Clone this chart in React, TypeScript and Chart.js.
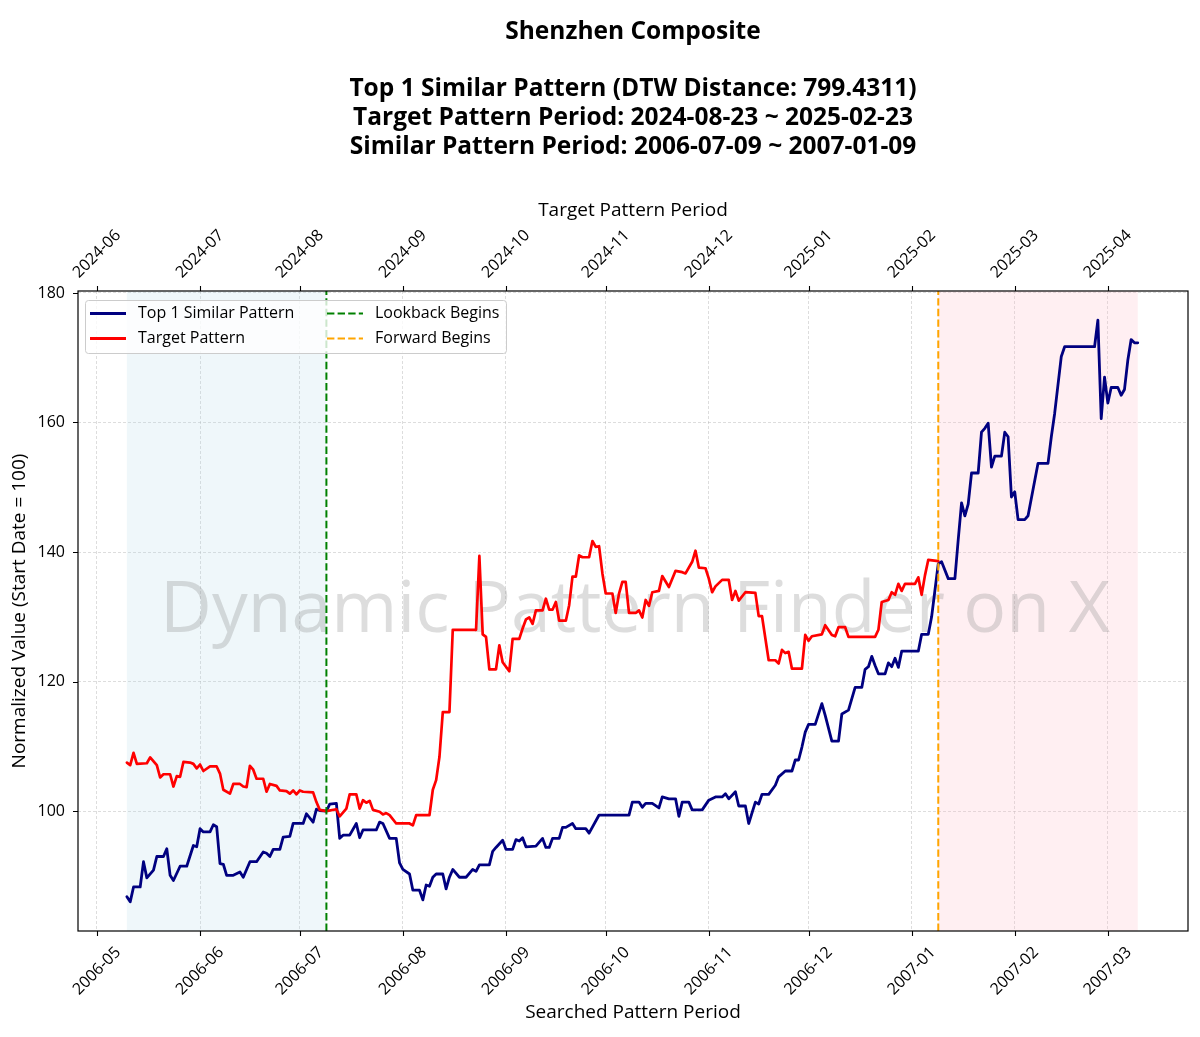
import React, { useEffect, useRef } from "react";
import { Chart, registerables } from "chart.js";

Chart.register(...registerables);

// days counted from 2006-05-01 (searched pattern time axis)
const monthTicks = [0, 31, 61, 92, 123, 153, 184, 214, 245, 276, 304];
const searchedLabels = [
  "2006-05", "2006-06", "2006-07", "2006-08", "2006-09", "2006-10",
  "2006-11", "2006-12", "2007-01", "2007-02", "2007-03",
];
const targetLabels = [
  "2024-06", "2024-07", "2024-08", "2024-09", "2024-10", "2024-11",
  "2024-12", "2025-01", "2025-02", "2025-03", "2025-04",
];
const yTicks = [100, 120, 140, 160, 180];

const lookbackDay = 69; // 2006-07-09
const forwardDay = 253; // 2007-01-09
const patternStartDay = 9;
const patternEndDay = 313;

// Top 1 Similar Pattern (searched, 2006-05 ~ 2007-03)
const similarDays = [
  9, 10, 11, 13, 14, 15, 17, 18, 20, 21, 22, 23, 25, 27, 29, 30, 31, 32, 34, 35,
  36, 37, 38, 39, 41, 43, 44, 46, 48, 50, 51, 52, 53, 55, 56, 58, 59, 62, 63, 65,
  66, 67, 69, 70, 72, 73, 74, 76, 78, 79, 80, 84, 85, 86, 88, 90, 91, 92, 94, 95,
  97, 98, 99, 100, 101, 102, 104, 105, 106, 107, 109, 111, 113, 114, 115, 118, 119, 120, 122, 123,
  125, 126, 127, 128, 129, 132, 134, 135, 136, 137, 139, 140, 141, 143, 144, 147, 148, 151, 160, 161,
  163, 164, 165, 167, 169, 170, 172, 174, 175, 176, 178, 179, 182, 184, 186, 188, 189, 190, 192, 193,
  195, 196, 198, 199, 200, 202, 204, 205, 207, 209, 210, 211, 212, 213, 214, 216, 218, 219, 221, 223,
  224, 226, 228, 230, 231, 232, 233, 234, 235, 237, 238, 239, 240, 241, 242, 247, 248, 250, 251, 252,
  253, 254, 256, 258, 259, 260, 261, 262, 263, 265, 266, 267, 268, 269, 270, 272, 273, 274, 275, 276,
  277, 279, 280, 283, 286, 287, 288, 290, 291, 300, 301, 302, 303, 304, 305, 307, 308, 309, 310, 311,
  312, 313,
];
const similarValues = [
  86.8, 86.0, 88.3, 88.3, 92.2, 89.7, 90.9, 93.0, 93.0, 94.2, 90.1, 89.3, 91.5, 91.5, 94.7, 94.5, 97.3, 96.8, 96.8, 97.9,
  97.6, 91.9, 91.8, 90.1, 90.1, 90.6, 89.8, 92.2, 92.2, 93.7, 93.5, 93.0, 94.1, 94.1, 96.0, 96.1, 98.1, 98.1, 99.6, 98.3,
  100.3, 100.1, 100.0, 101.1, 101.2, 95.8, 96.3, 96.3, 98.1, 95.9, 97.1, 97.1, 98.3, 98.1, 95.8, 95.8, 92.0, 91.0, 90.3, 87.8,
  87.8, 86.3, 88.6, 88.4, 89.8, 90.3, 90.3, 88.0, 89.8, 91.0, 89.8, 89.8, 91.0, 90.7, 91.7, 91.7, 93.8, 94.4, 95.5, 94.1,
  94.1, 95.6, 95.4, 95.9, 94.5, 94.6, 95.8, 94.4, 94.4, 95.8, 95.8, 97.5, 97.5, 98.1, 97.3, 97.3, 96.6, 99.4, 99.4, 101.4,
  101.4, 100.6, 101.2, 101.2, 100.5, 102.2, 101.9, 101.9, 99.2, 101.4, 101.4, 100.2, 100.2, 101.7, 102.2, 102.2, 102.7, 101.9, 103.0, 100.8,
  100.8, 98.1, 101.4, 101.1, 102.6, 102.6, 104.0, 105.3, 106.2, 106.2, 107.9, 107.9, 109.9, 112.2, 113.4, 113.4, 116.6, 114.8, 110.8, 110.8,
  115.0, 115.6, 119.1, 119.1, 121.9, 122.3, 123.9, 122.5, 121.2, 121.2, 122.9, 122.3, 123.6, 122.2, 124.7, 124.7, 127.3, 127.3, 130.0, 134.1,
  138.2, 138.5, 135.9, 135.9, 141.9, 147.6, 145.6, 147.4, 152.2, 152.2, 158.5, 159.1, 159.9, 153.1, 154.8, 154.8, 158.5, 157.8, 148.5, 149.3,
  145.0, 145.0, 145.6, 153.7, 153.7, 157.8, 161.4, 170.2, 171.7, 171.7, 175.8, 160.6, 167.0, 163.0, 165.4, 165.4, 164.2, 165.1, 169.6, 172.8,
  172.3, 172.3,
];

// Target Pattern (2024-06-23 ~ 2025-02-23, shifted onto the searched axis)
const targetDays = [
  9, 10, 11, 12, 15, 16, 18, 19, 20, 22, 23, 24, 25, 26, 28, 29, 30, 31, 32, 34,
  36, 37, 38, 40, 41, 43, 44, 45, 46, 47, 48, 50, 51, 52, 54, 55, 57, 58, 59, 60,
  61, 62, 65, 66, 67, 69, 72, 73, 75, 76, 78, 79, 80, 81, 82, 83, 85, 86, 87, 88,
  90, 94, 95, 96, 100, 101, 102, 103, 104, 106, 107, 114, 115, 116, 117, 118, 120, 121, 122, 124,
  125, 127, 128, 129, 130, 131, 132, 134, 135, 136, 137, 138, 139, 141, 142, 143, 144, 145, 146, 148,
  149, 150, 151, 152, 153, 155, 156, 157, 158, 159, 160, 162, 163, 164, 165, 166, 167, 169, 170, 172,
  174, 176, 177, 179, 180, 181, 183, 184, 185, 186, 188, 190, 191, 192, 193, 195, 198, 199, 200, 202,
  204, 205, 206, 207, 208, 209, 212, 213, 214, 215, 218, 219, 221, 222, 223, 225, 226, 234, 235, 236,
  238, 239, 240, 241, 242, 243, 246, 247, 248, 249, 250, 253,
];
const targetValues = [
  107.5, 107.1, 109.0, 107.3, 107.4, 108.3, 107.1, 105.2, 105.7, 105.7, 103.8, 105.4, 105.3, 107.6, 107.5, 107.3, 106.6, 107.2, 106.2, 106.9,
  106.9, 105.8, 103.3, 102.7, 104.2, 104.2, 103.8, 103.7, 107.0, 106.4, 105.0, 105.0, 103.0, 104.2, 103.9, 103.2, 103.1, 102.7, 103.2, 102.6,
  103.2, 103.0, 102.9, 101.4, 100.2, 100.0, 100.3, 99.2, 100.4, 102.6, 102.6, 100.4, 101.7, 101.3, 101.6, 100.2, 99.9, 99.5, 99.7, 99.4,
  98.1, 98.1, 97.8, 99.4, 99.4, 103.3, 104.8, 108.4, 115.3, 115.3, 128.0, 128.0, 139.4, 127.3, 126.9, 121.9, 121.9, 125.6, 123.0, 121.6,
  126.6, 126.6, 128.2, 129.6, 129.9, 128.9, 131.0, 131.0, 132.8, 131.1, 131.1, 132.3, 129.4, 129.4, 131.8, 136.2, 136.2, 139.5, 139.2, 139.2,
  141.7, 140.8, 140.9, 136.7, 133.6, 133.6, 130.6, 133.6, 135.4, 135.4, 130.6, 130.6, 131.0, 129.9, 132.6, 131.7, 133.8, 134.0, 136.3, 134.6,
  137.1, 136.9, 136.7, 138.5, 140.2, 137.6, 137.5, 135.9, 133.8, 134.7, 135.7, 135.7, 132.6, 134.0, 132.5, 133.8, 133.7, 130.1, 130.1, 123.3,
  123.3, 122.8, 124.9, 124.4, 124.6, 122.0, 122.0, 127.2, 126.3, 127.0, 127.3, 128.7, 127.2, 127.0, 128.4, 128.4, 126.9, 126.9, 128.0, 132.3,
  132.6, 133.8, 133.4, 135.1, 134.0, 135.1, 135.1, 136.1, 133.4, 136.4, 138.8, 138.6,
];

const X_MIN = -5.7;
const X_MAX = 328.1;
const Y_MIN = 81.5;
const Y_MAX = 180.3;

const FONT = '"Open Sans", "Noto Sans", sans-serif';

const titleLines = [
  "Shenzhen Composite",
  "",
  "Top 1 Similar Pattern (DTW Distance: 799.4311)",
  "Target Pattern Period: 2024-08-23 ~ 2025-02-23",
  "Similar Pattern Period: 2006-07-09 ~ 2007-01-09",
];

const legendItems = [
  { label: "Top 1 Similar Pattern", color: "#000080", dash: [] as number[] },
  { label: "Target Pattern", color: "#ff0000", dash: [] as number[] },
  { label: "Lookback Begins", color: "#008000", dash: [7.4, 3.2] },
  { label: "Forward Begins", color: "#ffa500", dash: [7.4, 3.2] },
];

const decorPlugin = {
  id: "decor",
  beforeDatasetsDraw(chart: any) {
    const { ctx, chartArea: a, scales } = chart;
    const x = scales.x;
    ctx.save();
    // shaded periods
    const x0 = x.getPixelForValue(patternStartDay);
    const x1 = x.getPixelForValue(lookbackDay);
    ctx.fillStyle = "rgba(173, 216, 230, 0.2)";
    ctx.fillRect(x0, a.top, x1 - x0, a.bottom - a.top);
    const x2 = x.getPixelForValue(forwardDay);
    const x3 = x.getPixelForValue(patternEndDay);
    ctx.fillStyle = "rgba(255, 192, 203, 0.25)";
    ctx.fillRect(x2, a.top, x3 - x2, a.bottom - a.top);

    // watermark
    const wm = "Dynamic Pattern Finder on X";
    ctx.font = `75px ${FONT}`;
    const w = ctx.measureText(wm).width;
    const size = (75 * 950) / w;
    ctx.font = `${size}px ${FONT}`;
    ctx.fillStyle = "rgba(128, 128, 128, 0.27)";
    ctx.textAlign = "center";
    ctx.textBaseline = "alphabetic";
    ctx.fillText(wm, (a.left + a.right) / 2 + 2, 632);
    ctx.restore();
  },
  afterDatasetsDraw(chart: any) {
    const { ctx, chartArea: a, scales } = chart;
    const xs = scales.x;
    const ys = scales.y;
    ctx.save();

    // frame
    ctx.strokeStyle = "#000";
    ctx.lineWidth = 1.2;
    ctx.strokeRect(a.left, a.top, a.right - a.left, a.bottom - a.top);

    // tick marks
    ctx.lineWidth = 1.1;
    ctx.beginPath();
    monthTicks.forEach((d) => {
      const px = Math.round(xs.getPixelForValue(d)) + 0.5;
      ctx.moveTo(px, a.bottom);
      ctx.lineTo(px, a.bottom + 5);
      ctx.moveTo(px, a.top);
      ctx.lineTo(px, a.top - 5);
    });
    yTicks.forEach((v) => {
      const py = Math.round(ys.getPixelForValue(v)) + 0.5;
      ctx.moveTo(a.left, py);
      ctx.lineTo(a.left - 5, py);
    });
    ctx.stroke();

    // tick labels
    ctx.fillStyle = "#000";
    ctx.font = `16px ${FONT}`;
    ctx.textAlign = "center";
    ctx.textBaseline = "middle";
    monthTicks.forEach((d, i) => {
      const px = xs.getPixelForValue(d);
      ctx.save();
      ctx.translate(px, a.bottom + 40);
      ctx.rotate(-Math.PI / 4);
      ctx.fillText(searchedLabels[i], 0, 0);
      ctx.restore();
      ctx.save();
      ctx.translate(px, a.top - 37);
      ctx.rotate(-Math.PI / 4);
      ctx.fillText(targetLabels[i], 0, 0);
      ctx.restore();
    });
    ctx.textAlign = "right";
    yTicks.forEach((v) => {
      ctx.fillText(String(v), a.left - 13, ys.getPixelForValue(v));
    });

    // legend
    const lx = 85;
    const ly = 300;
    const lw = 421;
    const lh = 53;
    ctx.fillStyle = "rgba(255, 255, 255, 0.8)";
    ctx.strokeStyle = "#cccccc";
    ctx.lineWidth = 1;
    ctx.beginPath();
    ctx.roundRect(lx + 0.5, ly + 0.5, lw, lh, 3);
    ctx.fill();
    ctx.stroke();
    ctx.textAlign = "left";
    ctx.textBaseline = "middle";
    ctx.font = `16px ${FONT}`;
    legendItems.forEach((item, i) => {
      const col = Math.floor(i / 2);
      const row = i % 2;
      const sx = col === 0 ? 90 : 327;
      const sy = 313.5 + row * 25;
      ctx.strokeStyle = item.color;
      ctx.lineWidth = i < 2 ? 2.8 : 2;
      ctx.setLineDash(item.dash);
      ctx.beginPath();
      ctx.moveTo(sx, sy);
      ctx.lineTo(sx + 36, sy);
      ctx.stroke();
      ctx.setLineDash([]);
      ctx.fillStyle = "#000";
      ctx.fillText(item.label, sx + 48, sy);
    });
    ctx.restore();
  },
  afterDraw(chart: any) {
    const { ctx, chartArea: a } = chart;
    const cx = (a.left + a.right) / 2;
    ctx.save();
    ctx.fillStyle = "#000";
    ctx.textAlign = "center";
    ctx.textBaseline = "middle";
    ctx.font = `bold 24.5px ${FONT}`;
    titleLines.forEach((line, i) => {
      if (line) ctx.fillText(line, cx, 32 + i * 28.7);
    });
    ctx.font = `19px ${FONT}`;
    ctx.fillText("Target Pattern Period", cx, 211);
    ctx.fillText("Searched Pattern Period", cx, 1013);
    ctx.save();
    ctx.translate(20, (a.top + a.bottom) / 2);
    ctx.rotate(-Math.PI / 2);
    ctx.fillText("Normalized Value (Start Date = 100)", 0, 0);
    ctx.restore();
    ctx.restore();
  },
};

const App = () => {
  const chartRef = useRef<HTMLCanvasElement | null>(null);
  const chartInstance = useRef<Chart | null>(null);

  useEffect(() => {
    document.body.style.margin = "0";
    if (chartInstance.current) {
      chartInstance.current.destroy();
    }

    const toPoints = (days: number[], values: number[]) =>
      days.map((d, i) => ({ x: d, y: values[i] }));

    const ctx = chartRef.current!.getContext("2d")!;
    chartInstance.current = new Chart(ctx, {
      type: "line",
      data: {
        datasets: [
          {
            label: "Lookback Begins",
            data: [
              { x: lookbackDay, y: Y_MIN },
              { x: lookbackDay, y: Y_MAX },
            ],
            borderColor: "#008000",
            borderWidth: 2,
            borderDash: [7.4, 3.2],
            pointRadius: 0,
            order: 0,
          },
          {
            label: "Forward Begins",
            data: [
              { x: forwardDay, y: Y_MIN },
              { x: forwardDay, y: Y_MAX },
            ],
            borderColor: "#ffa500",
            borderWidth: 2,
            borderDash: [7.4, 3.2],
            pointRadius: 0,
            order: 0,
          },
          {
            label: "Target Pattern",
            data: toPoints(targetDays, targetValues),
            borderColor: "#ff0000",
            borderWidth: 2.7,
            pointRadius: 0,
            tension: 0,
            borderJoinStyle: "round",
            borderCapStyle: "round",
            order: 1,
          },
          {
            label: "Top 1 Similar Pattern",
            data: toPoints(similarDays, similarValues),
            borderColor: "#000080",
            borderWidth: 2.8,
            pointRadius: 0,
            tension: 0,
            borderJoinStyle: "round",
            borderCapStyle: "round",
            order: 2,
          },
        ],
      },
      options: {
        responsive: false,
        animation: false,
        devicePixelRatio: 1,
        layout: {
          padding: { left: 78, right: 12, top: 291, bottom: 106 },
        },
        scales: {
          x: {
            type: "linear",
            min: X_MIN,
            max: X_MAX,
            afterBuildTicks: (scale: any) => {
              scale.ticks = monthTicks.map((v) => ({ value: v }));
            },
            afterFit: (scale: any) => {
              scale.height = 0;
            },
            ticks: { display: false },
            grid: {
              color: "rgba(176, 176, 176, 0.55)",
              lineWidth: 0.8,
              drawTicks: false,
            },
            border: { display: false, dash: [3, 2] },
          },
          y: {
            type: "linear",
            min: Y_MIN,
            max: Y_MAX,
            afterBuildTicks: (scale: any) => {
              scale.ticks = yTicks.map((v) => ({ value: v }));
            },
            afterFit: (scale: any) => {
              scale.width = 0;
            },
            ticks: { display: false },
            grid: {
              color: "rgba(176, 176, 176, 0.55)",
              lineWidth: 0.8,
              drawTicks: false,
            },
            border: { display: false, dash: [3, 2] },
          },
        },
        plugins: {
          legend: { display: false },
          tooltip: { enabled: false },
          title: { display: false },
        },
      },
      plugins: [decorPlugin],
    });

    return () => {
      if (chartInstance.current) {
        chartInstance.current.destroy();
        chartInstance.current = null;
      }
    };
  }, []);

  return (
    <div style={{ width: 1200, height: 1037, background: "#fff" }}>
      <canvas
        ref={chartRef}
        width={1200}
        height={1037}
        style={{ width: "1200px", height: "1037px", display: "block" }}
      />
    </div>
  );
};

export default App;
